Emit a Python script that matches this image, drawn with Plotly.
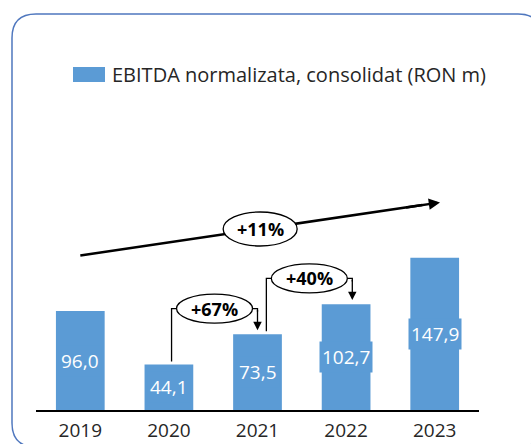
import plotly.graph_objects as go

# ---- data ----
years = ["2019", "2020", "2021", "2022", "2023"]
ebitda = [96.0, 44.1, 73.5, 102.7, 147.9]
series_name = "EBITDA normalizata, consolidat (RON m)"
growth_labels = ["+67%", "+40%"]          # 2020->2021, 2021->2022
growth_pairs = [(1, 2), (2, 3)]
cagr_label = "+11%"

BAR = "#5B9BD5"
FONT = "Open Sans"
W, H = 531, 444
L, R, T, B = 36, 52, 13, 34
PW, PH = W - L - R, H - T - B
YMAX = PH / 1.03


def pxx(p):
    return (p - L) / PW


def pxy(p):
    return (H - B - p) / PH


xs = list(range(len(years)))
fig = go.Figure()
fig.add_trace(go.Bar(x=xs, y=ebitda, width=0.55, marker=dict(color=BAR, line=dict(width=0)),
                     name=series_name, showlegend=False, hoverinfo="skip"))

shapes = []
annotations = []

# value labels inside bars
for i, v in enumerate(ebitda):
    annotations.append(dict(x=i, y=v / 2, xref="x", yref="y", text=f"{v:.1f}".replace(".", ","),
                            showarrow=False, bgcolor=BAR, borderpad=2,
                            font=dict(family=FONT, size=19, color="white")))

# CAGR arrow
tail = (0.0, 150.0)
tip = (4.06, 201.5)
mid = ((tail[0] + tip[0]) / 2, (tail[1] + tip[1]) / 2)
slope = (tip[1] - tail[1]) / (tip[0] - tail[0])
shapes.append(dict(type="line", xref="x", yref="y", x0=tail[0], y0=tail[1],
                   x1=tip[0] - 0.2, y1=tip[1] - 0.2 * slope,
                   line=dict(color="black", width=2.5)))
shapes.append(dict(type="circle", xref="x", yref="y", xsizemode="pixel", ysizemode="pixel",
                   xanchor=mid[0], yanchor=mid[1], x0=-37, x1=37, y0=-17, y1=17,
                   fillcolor="white", line=dict(color="black", width=1.3)))
annotations.append(dict(x=mid[0], y=mid[1], xref="x", yref="y", text=f"<b>{cagr_label}</b>",
                        showarrow=False, font=dict(family=FONT, size=18, color="black")))
annotations.append(dict(x=tip[0], y=tip[1], xref="x", yref="y", axref="x", ayref="y",
                        ax=tip[0] - 0.4, ay=tip[1] - 0.4 * slope,
                        text="", showarrow=True, arrowhead=2, arrowsize=0.9, arrowwidth=2.5,
                        arrowcolor="black", standoff=0))

# year-on-year brackets
offsets = [(0.03, 0.0), (0.1, 0.07)]
for (a, b), lab, (dl, dr) in zip(growth_pairs, growth_labels, offsets):
    xl, xr = a + dl, b + dr
    top = max(ebitda[a], ebitda[b]) + 25
    bot = ebitda[a] + 3
    tipy = ebitda[b] + 4
    shapes.append(dict(type="path", xref="x", yref="y",
                       path=f"M {xl},{bot} L {xl},{top} L {xr},{top} L {xr},{top - 3}",
                       line=dict(color="black", width=1.3)))
    cx = (xl + xr) / 2
    shapes.append(dict(type="circle", xref="x", yref="y", xsizemode="pixel", ysizemode="pixel",
                       xanchor=cx, yanchor=top, x0=-38, x1=38, y0=-14.5, y1=14.5,
                       fillcolor="white", line=dict(color="black", width=1.3)))
    annotations.append(dict(x=cx, y=top, xref="x", yref="y", text=f"<b>{lab}</b>",
                            showarrow=False, font=dict(family=FONT, size=18, color="black")))
    annotations.append(dict(x=xr, y=tipy, xref="x", yref="y", axref="x", ayref="y",
                            ax=xr, ay=top, text="", showarrow=True, arrowhead=2,
                            arrowsize=1.3, arrowwidth=1.3, arrowcolor="black", standoff=0))

# legend (swatch + text)
shapes.append(dict(type="rect", xref="paper", yref="paper", x0=pxx(73), x1=pxx(105),
                   y0=pxy(82), y1=pxy(67), fillcolor=BAR, line=dict(width=0)))
annotations.append(dict(x=pxx(110), y=pxy(74.5), xref="paper", yref="paper", xanchor="left",
                        yanchor="middle", text=series_name, showarrow=False,
                        font=dict(family=FONT, size=20, color="#262626")))

# rounded border
x0, x1, y0, y1, r = 12, 542, 14, 447, 24
pts = [("M", x0 + r, y0), ("L", x1 - r, y0), ("Q", x1, y0, x1, y0 + r), ("L", x1, y1 - r),
       ("Q", x1, y1, x1 - r, y1), ("L", x0 + r, y1), ("Q", x0, y1, x0, y1 - r),
       ("L", x0, y0 + r), ("Q", x0, y0, x0 + r, y0)]
path = ""
for p in pts:
    cmd, coords = p[0], p[1:]
    c = [f"{pxx(coords[k]):.5f},{pxy(coords[k + 1]):.5f}" for k in range(0, len(coords), 2)]
    path += cmd + " " + " ".join(c) + " "
path += "Z"
shapes.append(dict(type="path", xref="paper", yref="paper", path=path,
                   line=dict(color="#4F77BE", width=1.5)))

fig.update_layout(
    width=W, height=H, margin=dict(l=L, r=R, t=T, b=B, autoexpand=False),
    paper_bgcolor="white", plot_bgcolor="white",
    shapes=shapes, annotations=annotations, showlegend=False,
    xaxis=dict(range=[-0.5, len(years) - 0.5], tickvals=xs, ticktext=years, showgrid=False,
               zeroline=False, showline=True, linecolor="black", linewidth=1.5, ticks="",
               ticklabelstandoff=2, automargin=False,
               tickfont=dict(family=FONT, size=19, color="#262626")),
    yaxis=dict(range=[0, YMAX], visible=False, showgrid=False, zeroline=False, automargin=False),
)
fig.write_html("out.html", config={"displayModeBar": False},
               post_script="document.body.style.margin='0';")
